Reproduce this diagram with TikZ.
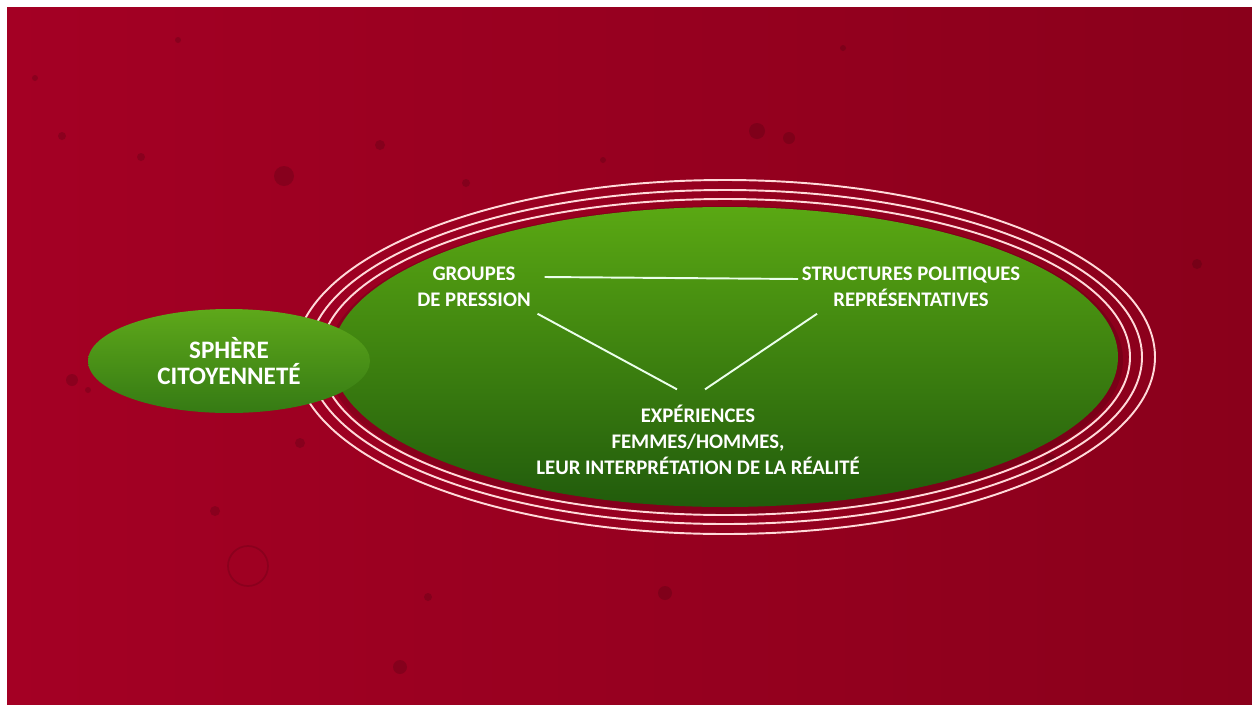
\documentclass[tikz,border=0pt]{standalone}
\usepackage{fontspec}
\setmainfont{Carlito}
\usetikzlibrary{shapes.geometric}
\definecolor{redL}{HTML}{A40024}
\definecolor{redR}{HTML}{8A001B}
\definecolor{grnT}{HTML}{5AA813}
\definecolor{grnM}{HTML}{3F8A12}
\definecolor{grnB}{HTML}{215B0C}
\definecolor{sphT}{HTML}{5EA81A}
\definecolor{sphB}{HTML}{357A14}
\begin{document}
\begin{tikzpicture}[x=0.02cm,y=-0.02cm,
  lbl/.style={text=white,font=\bfseries\fontsize{11.8}{14.8}\selectfont,align=center,inner sep=2pt},
  link/.style={draw=white!92!green,line width=1.1pt},
  ring/.style={draw=white!85!red,line width=1.1pt},
  spot/.style={fill=black,opacity=0.14}]
\useasboundingbox (0,0) rectangle (1252,704);
\fill[white] (0,0) rectangle (1252,704);
\shade[left color=redL,right color=redR] (7,7) rectangle (1252,704);
% dark spots on the background
\foreach \x/\y/\r in {284/176/10,757/131/8,789/138/6,380/145/5,62/136/4,141/157/4,178/40/3,
  72/380/6,88/390/3,300/443/5,215/511/5,665/593/7,400/667/7,428/597/4,1197/264/5,
  603/160/3,466/183/4,35/78/3,843/48/3,1050/460/6}
  \fill[spot] (\x,\y) circle (\r);
\draw[black,opacity=0.12,line width=1pt] (248,566) circle (20);
% rings and big ellipse
\foreach \d/\e in {12/8,24/17,37/27}
  \draw[ring] (725,357) ellipse ({393+\d} and {150+\e});
\fill[black,opacity=0.12] (725,360) ellipse (398 and 154);
\shade[top color=grnT,middle color=grnM,bottom color=grnB] (725,357) ellipse (393 and 150);
% small ellipse
\node[ellipse,top color=sphT,bottom color=sphB,minimum width=5.64cm,minimum height=2.08cm,
  text=white,font=\bfseries\fontsize{14.3}{14.5}\selectfont,align=center] (sph) at (229,361)
  {SPHÈRE\\CITOYENNETÉ};
% labels
\node[lbl] (grp) at (474,287) {GROUPES\\DE PRESSION};
\node[lbl] (pol) at (911,287) {STRUCTURES POLITIQUES\\REPRÉSENTATIVES};
\node[lbl] (exp) at (698,440) {EXPÉRIENCES\\FEMMES/HOMMES,\\LEUR INTERPRÉTATION DE LA RÉALITÉ};
\draw[link] ([shift={(10,-10)}]grp.east) -- ([shift={(0,-8)}]pol.west);
\draw[link] ([shift={(3,3)}]grp.south east) -- ([shift={(-21,-12)}]exp.north);
\draw[link] ([shift={(19,3)}]pol.south west) -- ([shift={(7,-12)}]exp.north);
\end{tikzpicture}
\end{document}
